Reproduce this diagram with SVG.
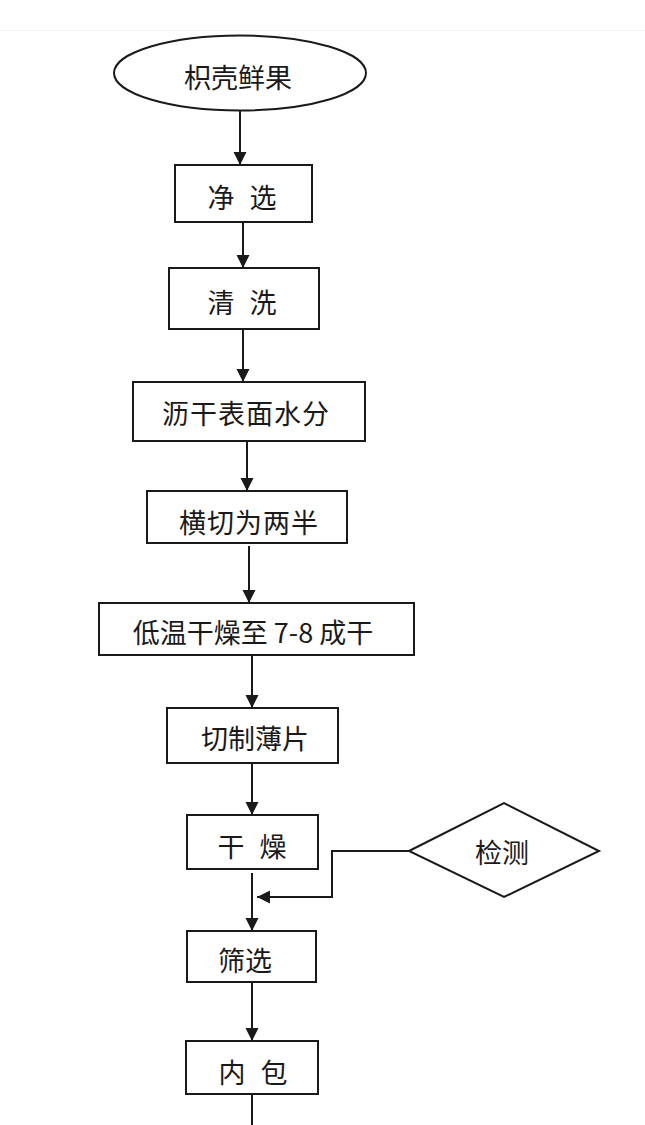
<svg xmlns="http://www.w3.org/2000/svg" width="645" height="1125" viewBox="0 0 645 1125">
<style>
.s{fill:#fff;stroke:#1a1a1a;stroke-width:2}
.t{font-family:"Noto Sans CJK SC","Noto Sans",sans-serif;font-size:27px;fill:#1a1a1a;text-anchor:middle;dominant-baseline:central}
.c{fill:none;stroke:#1a1a1a;stroke-width:2}
</style>
<defs>
<marker id="a" markerUnits="userSpaceOnUse" markerWidth="14" markerHeight="14" viewBox="0 0 14 14" refX="13" refY="7" orient="auto">
<path d="M0,0.5 L13,7 L0,13.5 Z" fill="#1a1a1a"/>
</marker>
</defs>
<rect width="645" height="1125" fill="#fff"/>
<line x1="0" y1="30.5" x2="645" y2="30.5" stroke="#f2f2f2" stroke-width="1"/>
<g id="n0"><ellipse class="s" cx="240" cy="73" rx="126" ry="37.5"/><text class="t" x="238" y="76">枳壳鲜果</text></g>
<g id="n1"><rect class="s" x="175" y="165" width="137" height="57"/><text class="t" x="242" y="196" style="word-spacing:9px">净 选</text></g>
<g id="n2"><rect class="s" x="169" y="268" width="150" height="61"/><text class="t" x="242" y="301" style="word-spacing:9px">清 洗</text></g>
<g id="n3"><rect class="s" x="133" y="382" width="232" height="59"/><text class="t" x="246" y="412" style="letter-spacing:1px">沥干表面水分</text></g>
<g id="n4"><rect class="s" x="147" y="491" width="200" height="52"/><text class="t" x="249" y="521" style="letter-spacing:1px">横切为两半</text></g>
<g id="n5"><rect class="s" x="99" y="603" width="315" height="52"/><text class="t" x="253" y="631">低温干燥至 7-8 成干</text></g>
<g id="n6"><rect class="s" x="167" y="708" width="171" height="55"/><text class="t" x="255" y="737">切制薄片</text></g>
<g id="n7"><rect class="s" x="187" y="815" width="131" height="54"/><text class="t" x="252" y="845" style="word-spacing:9px">干 燥</text></g>
<g id="n8"><polygon class="s" points="409,851 504,803 599,851 504,897"/><text class="t" x="502" y="851">检测</text></g>
<g id="n9"><rect class="s" x="187" y="931" width="129" height="51"/><text class="t" x="245" y="959">筛选</text></g>
<g id="n10"><rect class="s" x="186" y="1041" width="132" height="53"/><text class="t" x="253" y="1071" style="word-spacing:9px">内 包</text></g>
<g id="connectors">
<line class="c" x1="240" y1="111" x2="240" y2="165" marker-end="url(#a)"/>
<line class="c" x1="243" y1="223" x2="243" y2="268" marker-end="url(#a)"/>
<line class="c" x1="243" y1="330" x2="243" y2="382" marker-end="url(#a)"/>
<line class="c" x1="247" y1="442" x2="247" y2="491" marker-end="url(#a)"/>
<line class="c" x1="249" y1="546" x2="249" y2="603" marker-end="url(#a)"/>
<line class="c" x1="252" y1="656" x2="252" y2="708" marker-end="url(#a)"/>
<line class="c" x1="252" y1="764" x2="252" y2="815" marker-end="url(#a)"/>
<line class="c" x1="252" y1="873" x2="252" y2="931" marker-end="url(#a)"/>
<polyline class="c" points="409,851 332,851 332,897 257,897" marker-end="url(#a)"/>
<line class="c" x1="252" y1="983" x2="252" y2="1041" marker-end="url(#a)"/>
<line class="c" x1="252" y1="1095" x2="252" y2="1125"/>
</g>
</svg>
